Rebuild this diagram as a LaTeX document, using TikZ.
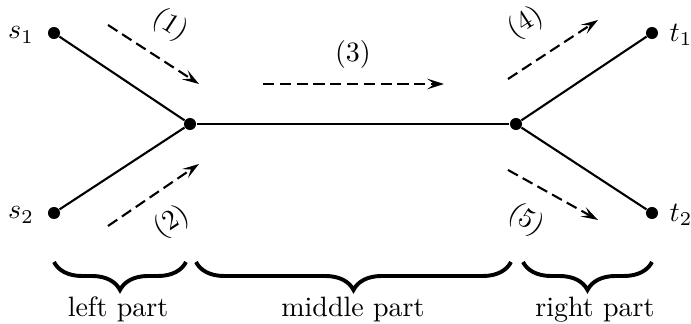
\documentclass[tikz,border=0pt]{standalone}
\usetikzlibrary{decorations.pathreplacing,arrows.meta}
\begin{document}
\begin{tikzpicture}[x=0.35714pt,y=-0.35714pt,
  dot/.style={circle,fill=black,inner sep=0pt,minimum size=4.3pt},
  edge/.style={line width=0.75pt},
  flow/.style={line width=0.75pt,dash pattern=on 4pt off 2pt,-{Stealth[length=6pt,width=3.8pt,inset=2.5pt]}},
  brc/.style={decorate,decoration={brace,mirror,amplitude=10pt},line width=1.4pt},
  flabel/.style={inner sep=0pt}]
\useasboundingbox (0,0) rectangle (691,324);
% vertices
\node[dot] (s1) at (54,33) {};
\node[dot] (s2) at (54,213) {};
\node[dot] (a) at (190,124) {};
\node[dot] (b) at (516,124) {};
\node[dot] (t1) at (652,33) {};
\node[dot] (t2) at (652,213) {};
\node (ls1) at (21,35) {$s_1$};
\node (ls2) at (21,215) {$s_2$};
\node (lt1) at (681,35) {$t_1$};
\node (lt2) at (681,215) {$t_2$};
% edges
\draw[edge] (s1) -- (a);
\draw[edge] (s2) -- (a);
\draw[edge] (a) -- (b);
\draw[edge] (b) -- (t1);
\draw[edge] (b) -- (t2);
% flow arrows
\coordinate (f1s) at (108,25); \coordinate (f1e) at (199,84);
\coordinate (f2s) at (108,226); \coordinate (f2e) at (199,164);
\coordinate (f3s) at (263,84); \coordinate (f3e) at (444,84);
\coordinate (f4s) at (508,79); \coordinate (f4e) at (598,20);
\coordinate (f5s) at (508,170); \coordinate (f5e) at (598,220);
\draw[flow] (f1s) -- (f1e);
\draw[flow] (f2s) -- (f2e);
\draw[flow] (f3s) -- (f3e);
\draw[flow] (f4s) -- (f4e);
\draw[flow] (f5s) -- (f5e);
\node[flabel,rotate=-33] (l1) at (170,25) {(1)};
\node[flabel,rotate=33] (l2) at (172,222) {(2)};
\node[flabel] (l3) at (353,55) {(3)};
\node[flabel,rotate=33] (l4) at (526,23) {(4)};
\node[flabel,rotate=-33] (l5) at (526,220) {(5)};
% braces
\coordinate (bl1) at (54,262); \coordinate (bl2) at (186,262);
\coordinate (bm1) at (196,262); \coordinate (bm2) at (511,262);
\coordinate (br1) at (523,262); \coordinate (br2) at (652,262);
\draw[brc] (bl1) -- (bl2);
\draw[brc] (bm1) -- (bm2);
\draw[brc] (br1) -- (br2);
\node[anchor=base] (pl) at (118,317) {left part};
\node[anchor=base] (pm) at (353,317) {middle part};
\node[anchor=base] (pr) at (595,317) {right part};
\end{tikzpicture}
\end{document}
